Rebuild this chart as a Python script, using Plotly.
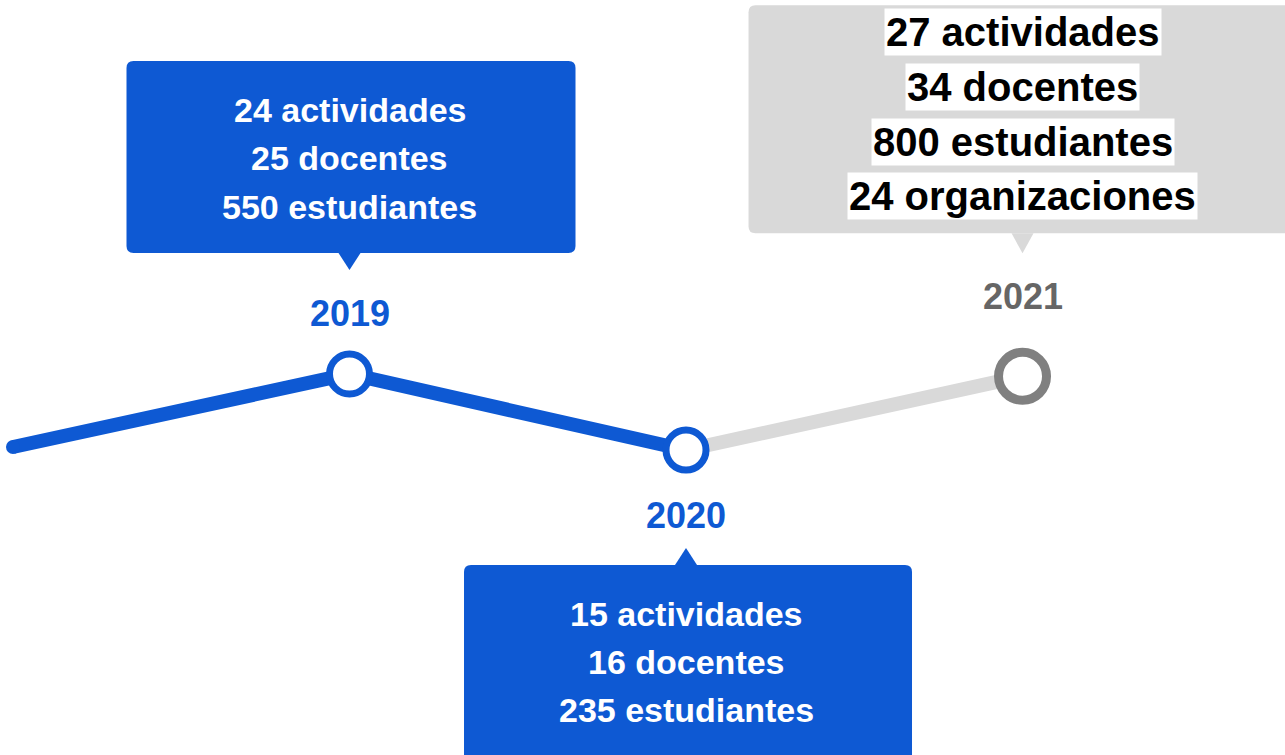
import plotly.graph_objects as go

# ---- data ----
anos_linea = [2018, 2019, 2020, 2021]
nivel = [0.04, 1.0, 0.0, 0.97]
anos = [2019, 2020, 2021]
actividades = [24, 15, 27]
docentes = [25, 16, 34]
estudiantes = [550, 235, 800]
organizaciones = [None, None, 24]

AZUL = "#0E59D3"
GRIS_CLARO = "#D9D9D9"
GRIS_MARCA = "#808080"
GRIS_TEXTO = "#666666"
FONT = "Liberation Sans, Arial, sans-serif"

niv = dict(zip(anos_linea, nivel))

fig = go.Figure()
fig.add_trace(go.Scatter(x=anos_linea[:3], y=nivel[:3], mode="lines",
                         line=dict(color=AZUL, width=14), hoverinfo="skip"))
fig.add_trace(go.Scatter(x=anos_linea[2:], y=nivel[2:], mode="lines",
                         line=dict(color=GRIS_CLARO, width=14), hoverinfo="skip"))
fig.add_trace(go.Scatter(x=anos_linea[:1], y=nivel[:1], mode="markers",
                         marker=dict(color=AZUL, size=14), hoverinfo="skip"))
fig.add_trace(go.Scatter(x=anos, y=[niv[a] for a in anos], mode="markers",
                         marker=dict(color="white", size=[40, 40, 48], opacity=1,
                                     line=dict(color=[AZUL, AZUL, GRIS_MARCA], width=[7, 7, 9])),
                         hoverinfo="skip"))

callouts = {
    2019: dict(color=AZUL, x0=-223, x1=226, ytop=313, ybot=121, tip=104, label=61,
               lines=[264, 216, 167], size=34, txtcol="white", bg=None, labcol=AZUL),
    2020: dict(color=AZUL, x0=-222, x1=226, ytop=-115, ybot=-330, tip=-98, label=-65,
               lines=[-164, -212, -260], size=34, txtcol="white", bg=None, labcol=AZUL),
    2021: dict(color=GRIS_CLARO, x0=-274, x1=290, ytop=371, ybot=143, tip=123, label=80,
               lines=[344, 289, 234, 180], size=40, txtcol="black", bg="white", labcol=GRIS_TEXTO),
}

def rounded_rect(x0, x1, ya, yb, r=7):
    top, bot = max(ya, yb), min(ya, yb)
    return (f"M {x0+r},{top} L {x1-r},{top} Q {x1},{top} {x1},{top-r} "
            f"L {x1},{bot+r} Q {x1},{bot} {x1-r},{bot} L {x0+r},{bot} "
            f"Q {x0},{bot} {x0},{bot+r} L {x0},{top-r} Q {x0},{top} {x0+r},{top} Z")

for i, a in enumerate(anos):
    c = callouts[a]
    y = niv[a]
    fig.add_shape(type="path", xref="x", yref="y", xsizemode="pixel", ysizemode="pixel",
                  xanchor=a, yanchor=y, path=rounded_rect(c["x0"], c["x1"], c["ytop"], c["ybot"]),
                  fillcolor=c["color"], line=dict(width=0), layer="below")
    base = c["ybot"] if c["tip"] > 0 else c["ytop"]
    fig.add_shape(type="path", xref="x", yref="y", xsizemode="pixel", ysizemode="pixel",
                  xanchor=a, yanchor=y,
                  path=f"M -11,{base} L 11,{base} L 0,{c['tip']} Z",
                  fillcolor=c["color"], line=dict(width=0), layer="below")
    fig.add_annotation(x=a, y=y, text=str(a), showarrow=False, yshift=c["label"],
                       font=dict(family=FONT, size=36, color=c["labcol"], weight=700))
    textos = [f"{actividades[i]} actividades", f"{docentes[i]} docentes",
              f"{estudiantes[i]} estudiantes"]
    if organizaciones[i] is not None:
        textos.append(f"{organizaciones[i]} organizaciones")
    for t, ys in zip(textos, c["lines"]):
        kw = {}
        if c["bg"]:
            kw = dict(bgcolor=c["bg"], borderpad=1)
        fig.add_annotation(x=a, y=y, text=t, showarrow=False, yshift=ys,
                           font=dict(family=FONT, size=c["size"], color=c["txtcol"], weight=700),
                           **kw)

fig.update_layout(
    width=1285, height=755,
    margin=dict(l=0, r=0, t=0, b=0),
    paper_bgcolor="white", plot_bgcolor="white",
    showlegend=False,
    xaxis=dict(range=[2017.9614, 2021.780], visible=False, fixedrange=True),
    yaxis=dict(range=[-4.013, 5.921], visible=False, fixedrange=True),
)
fig.write_html("out.html", config={"displayModeBar": False},
               post_script="document.body.style.margin='0';document.body.style.overflow='hidden';")
